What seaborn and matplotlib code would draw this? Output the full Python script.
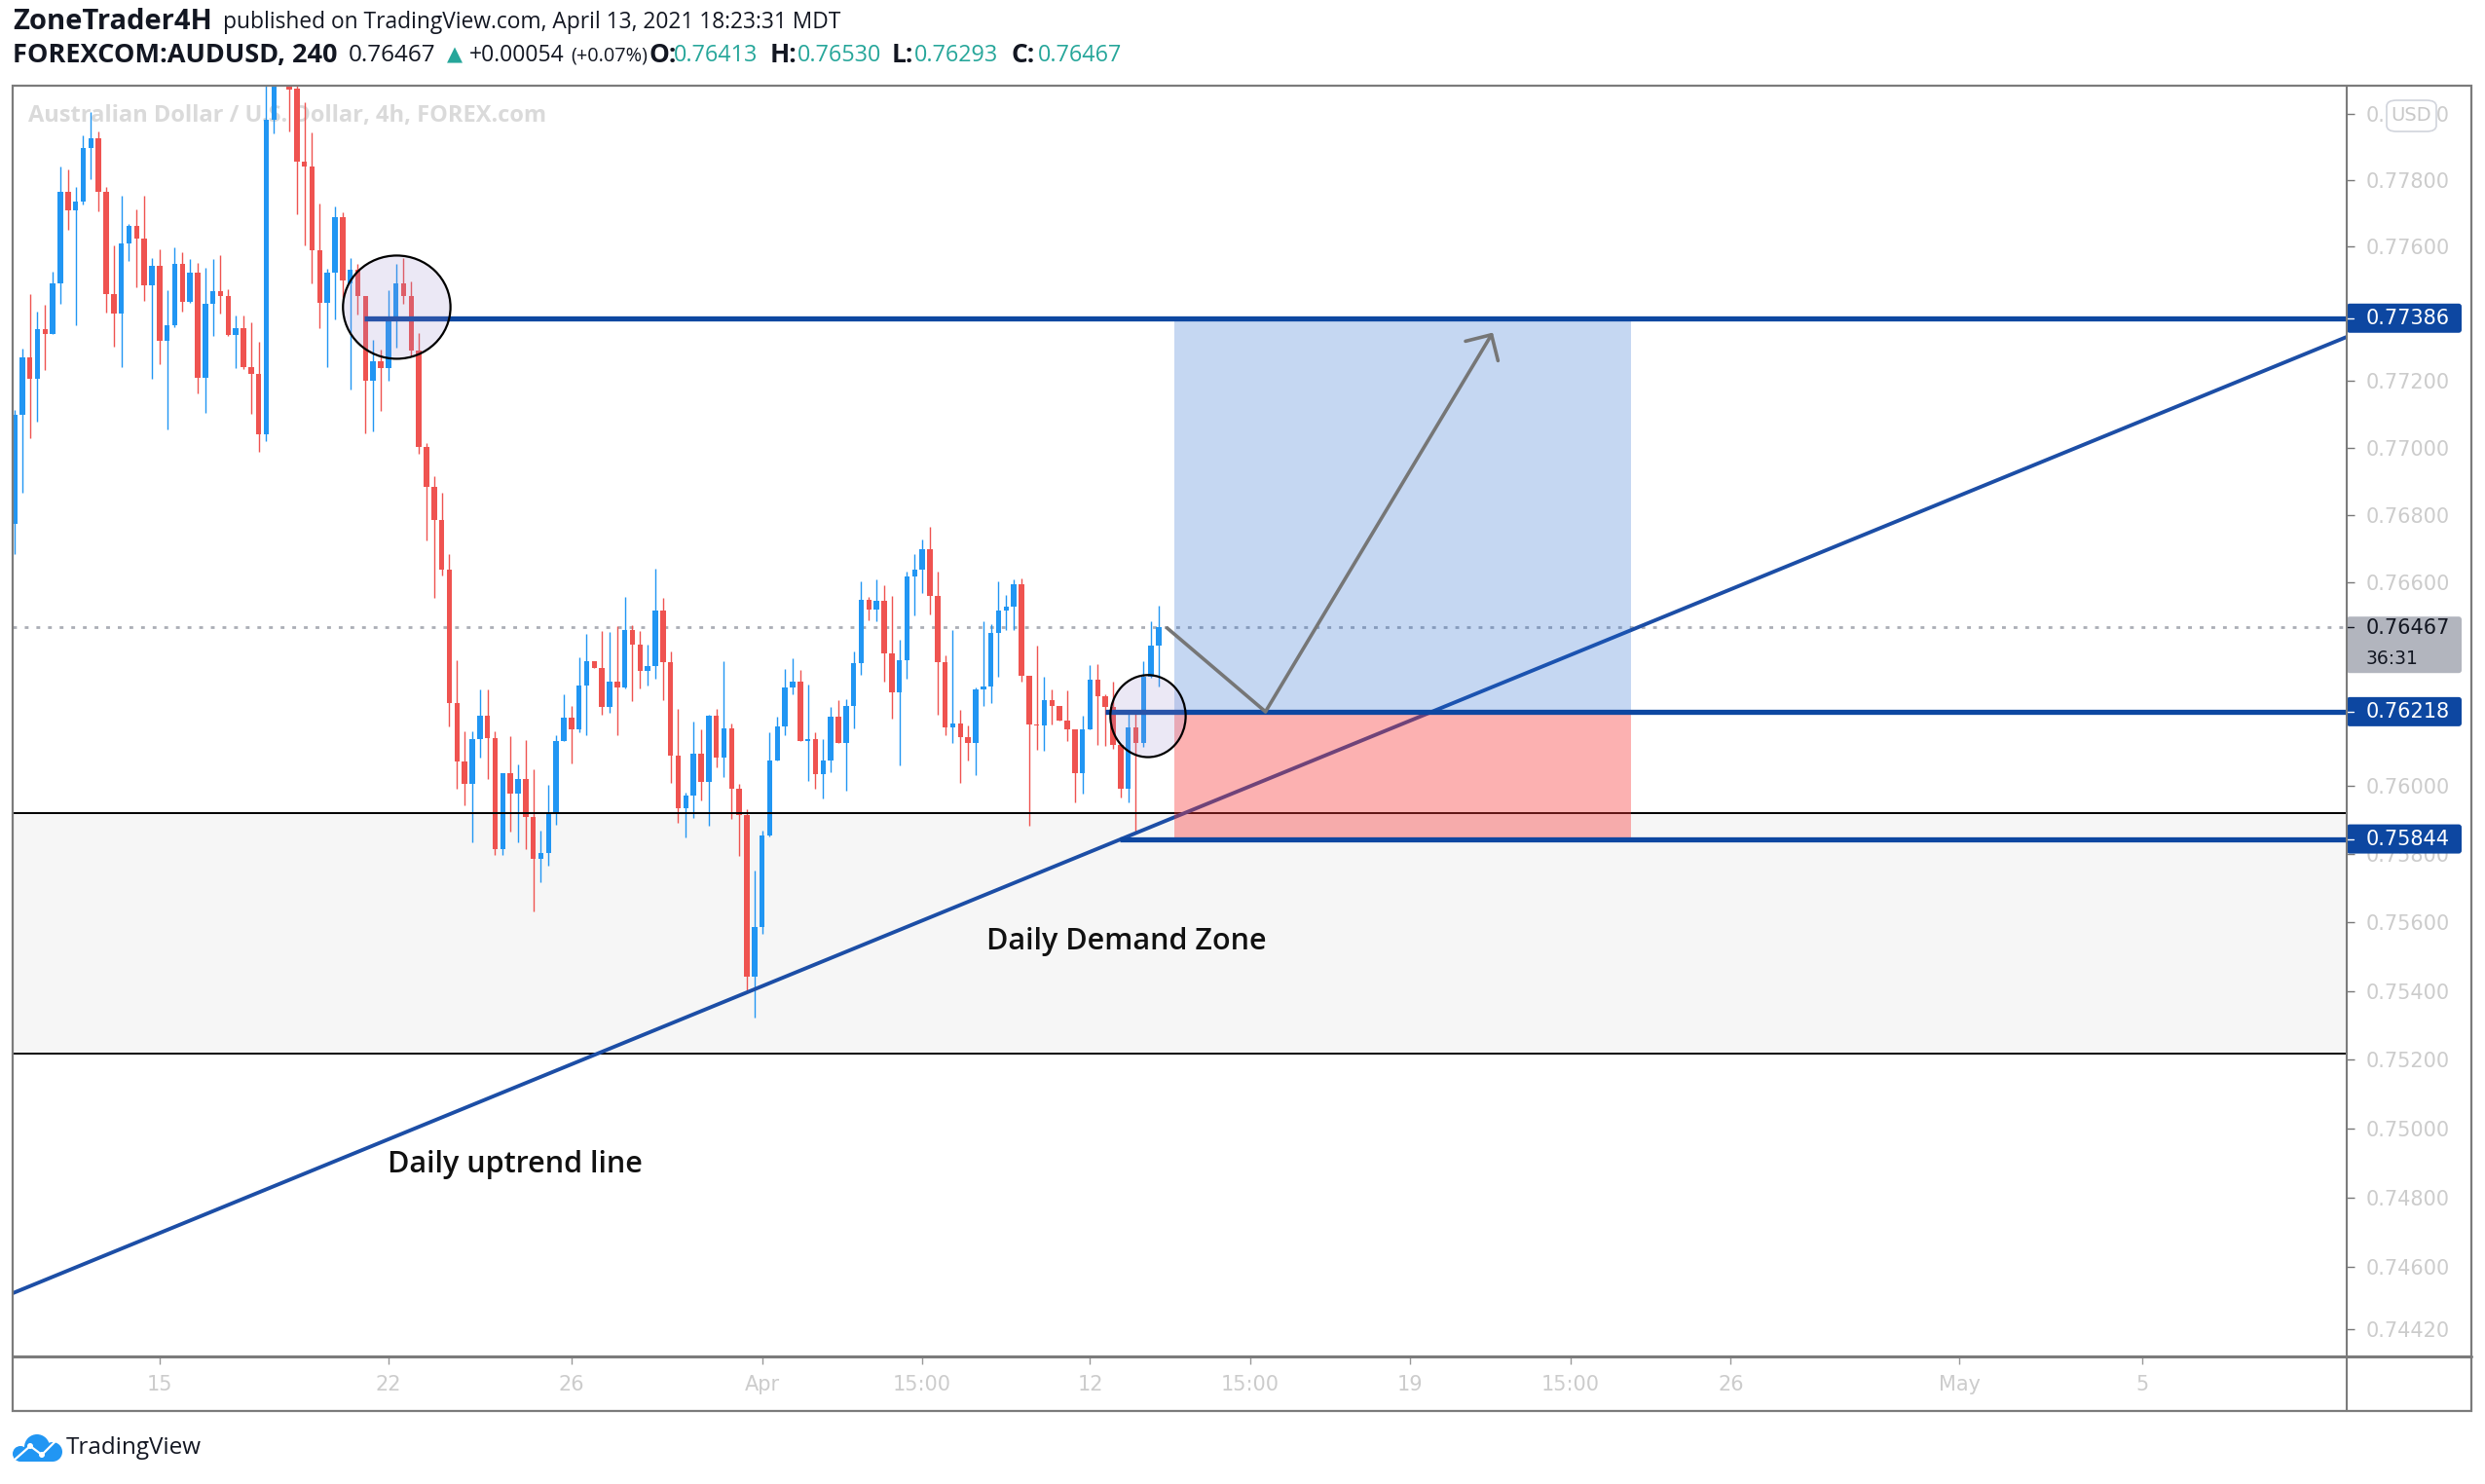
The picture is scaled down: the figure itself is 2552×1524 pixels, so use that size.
import matplotlib
matplotlib.use("Agg")
import matplotlib.pyplot as plt
import matplotlib.transforms as mtransforms
from matplotlib.patches import Rectangle, Ellipse, FancyBboxPatch, Circle, Polygon
from matplotlib.lines import Line2D
from matplotlib.ticker import FixedLocator, FixedFormatter, NullLocator, NullFormatter
import numpy as np
import pandas as pd
import seaborn as sns

# ---------------- data (AUDUSD 4h candles) ----------------
opens = [0.76773, 0.77098, 0.77268, 0.77204, 0.77352, 0.77340, 0.77490, 0.77764, 0.77709, 0.77737,
         0.77898, 0.77926, 0.77764, 0.77459, 0.77400, 0.77609, 0.77662, 0.77624, 0.77484, 0.77542,
         0.77319, 0.77365, 0.77548, 0.77435, 0.77522, 0.77208, 0.77428, 0.77466, 0.77453, 0.77335,
         0.77355, 0.77239, 0.77220, 0.77040, 0.77981, 0.78150, 0.78230, 0.78076, 0.77857, 0.77840,
         0.77588, 0.77432, 0.77522, 0.77690, 0.77490, 0.77532, 0.77451, 0.77200, 0.77256, 0.77237,
         0.77379, 0.77490, 0.77452, 0.77290, 0.77001, 0.76883, 0.76784, 0.76639, 0.76243, 0.76072,
         0.76006, 0.76137, 0.76205, 0.76140, 0.75815, 0.76037, 0.75977, 0.76019, 0.75908, 0.75787,
         0.75802, 0.75921, 0.76131, 0.76199, 0.76166, 0.76295, 0.76367, 0.76347, 0.76233, 0.76307,
         0.76288, 0.76459, 0.76415, 0.76337, 0.76353, 0.76516, 0.76365, 0.76088, 0.75933, 0.75970,
         0.76093, 0.76011, 0.76206, 0.76082, 0.76170, 0.75990, 0.75913, 0.75441, 0.75586, 0.75854,
         0.76074, 0.76176, 0.76289, 0.76308, 0.76132, 0.76137, 0.76033, 0.76075, 0.76204, 0.76127,
         0.76234, 0.76360, 0.76548, 0.76519, 0.76545, 0.76389, 0.76276, 0.76370, 0.76617, 0.76638,
         0.76699, 0.76560, 0.76365, 0.76172, 0.76184, 0.76144, 0.76125, 0.76284, 0.76292, 0.76450,
         0.76517, 0.76528, 0.76595, 0.76325, 0.76181, 0.76177, 0.76251, 0.76235, 0.76191, 0.76165,
         0.76037, 0.76167, 0.76313, 0.76263, 0.76232, 0.76120, 0.75991, 0.76172, 0.76127, 0.76322,
         0.76413]
highs = [0.77112, 0.77294, 0.77457, 0.77405, 0.77425, 0.77525, 0.77840, 0.77832, 0.77780, 0.77934,
         0.78005, 0.77947, 0.77780, 0.77603, 0.77752, 0.77668, 0.77711, 0.77754, 0.77567, 0.77592,
         0.77469, 0.77597, 0.77583, 0.77562, 0.77551, 0.77536, 0.77562, 0.77574, 0.77472, 0.77394,
         0.77394, 0.77373, 0.77315, 0.78120, 0.78200, 0.78320, 0.78280, 0.78100, 0.78034, 0.77944,
         0.77731, 0.77534, 0.77722, 0.77704, 0.77565, 0.77549, 0.77451, 0.77321, 0.77292, 0.77471,
         0.77548, 0.77565, 0.77496, 0.77342, 0.77014, 0.76914, 0.76867, 0.76685, 0.76369, 0.76161,
         0.76161, 0.76284, 0.76284, 0.76161, 0.76037, 0.76145, 0.76062, 0.76134, 0.76048, 0.75868,
         0.76002, 0.76150, 0.76270, 0.76235, 0.76379, 0.76448, 0.76367, 0.76455, 0.76452, 0.76470,
         0.76558, 0.76472, 0.76457, 0.76415, 0.76641, 0.76553, 0.76396, 0.76227, 0.75979, 0.76188,
         0.76166, 0.76208, 0.76227, 0.76367, 0.76184, 0.76007, 0.75931, 0.75752, 0.75868, 0.76156,
         0.76202, 0.76343, 0.76375, 0.76341, 0.76298, 0.76156, 0.76137, 0.76232, 0.76253, 0.76256,
         0.76395, 0.76603, 0.76558, 0.76608, 0.76591, 0.76560, 0.76429, 0.76631, 0.76683, 0.76726,
         0.76765, 0.76631, 0.76384, 0.76458, 0.76224, 0.76178, 0.76289, 0.76484, 0.76476, 0.76603,
         0.76563, 0.76609, 0.76612, 0.76325, 0.76412, 0.76320, 0.76284, 0.76235, 0.76281, 0.76165,
         0.76207, 0.76355, 0.76358, 0.76270, 0.76308, 0.76120, 0.76212, 0.76212, 0.76367, 0.76486,
         0.76530]
lows = [0.76683, 0.76867, 0.77028, 0.77076, 0.77231, 0.77338, 0.77429, 0.77651, 0.77365, 0.77726,
        0.77804, 0.77706, 0.77403, 0.77301, 0.77240, 0.77557, 0.77479, 0.77437, 0.77205, 0.77249,
        0.77054, 0.77360, 0.77406, 0.77431, 0.77161, 0.77103, 0.77333, 0.77400, 0.77333, 0.77237,
        0.77234, 0.77101, 0.76986, 0.77019, 0.77942, 0.78110, 0.77947, 0.77699, 0.77604, 0.77491,
        0.77357, 0.77240, 0.77382, 0.77447, 0.77173, 0.77396, 0.77042, 0.77047, 0.77108, 0.77200,
        0.77297, 0.77429, 0.77271, 0.76981, 0.76724, 0.76553, 0.76619, 0.76174, 0.75992, 0.75943,
        0.75835, 0.76082, 0.76020, 0.75798, 0.75798, 0.75866, 0.75835, 0.75815, 0.75632, 0.75717,
        0.75765, 0.75886, 0.76131, 0.76066, 0.76156, 0.76150, 0.76347, 0.76208, 0.76214, 0.76150,
        0.76286, 0.76248, 0.76286, 0.76295, 0.76314, 0.76251, 0.76009, 0.75891, 0.75848, 0.75905,
        0.75957, 0.75883, 0.76055, 0.76026, 0.75903, 0.75793, 0.75403, 0.75322, 0.75566, 0.75851,
        0.76074, 0.76150, 0.76270, 0.76132, 0.76013, 0.75990, 0.75963, 0.76039, 0.76127, 0.75987,
        0.76168, 0.76327, 0.76489, 0.76486, 0.76308, 0.76197, 0.76060, 0.76315, 0.76503, 0.76567,
        0.76504, 0.76208, 0.76149, 0.76125, 0.76009, 0.76075, 0.76030, 0.76235, 0.76243, 0.76320,
        0.76460, 0.76460, 0.76308, 0.75883, 0.76106, 0.76104, 0.76180, 0.76191, 0.76132, 0.75950,
        0.75976, 0.76165, 0.76121, 0.76118, 0.76108, 0.75966, 0.75952, 0.75866, 0.76115, 0.76318,
        0.76293]
closes = [0.77098, 0.77268, 0.77204, 0.77352, 0.77340, 0.77490, 0.77764, 0.77709, 0.77737, 0.77898,
          0.77926, 0.77764, 0.77459, 0.77400, 0.77609, 0.77662, 0.77624, 0.77484, 0.77542, 0.77319,
          0.77365, 0.77548, 0.77435, 0.77522, 0.77208, 0.77428, 0.77466, 0.77453, 0.77335, 0.77355,
          0.77239, 0.77220, 0.77040, 0.77981, 0.78150, 0.78250, 0.78074, 0.77857, 0.77840, 0.77588,
          0.77432, 0.77522, 0.77690, 0.77498, 0.77532, 0.77451, 0.77200, 0.77256, 0.77237, 0.77379,
          0.77490, 0.77452, 0.77290, 0.77001, 0.76883, 0.76784, 0.76639, 0.76243, 0.76072, 0.76006,
          0.76137, 0.76205, 0.76140, 0.75815, 0.76037, 0.75977, 0.76019, 0.75908, 0.75787, 0.75802,
          0.75921, 0.76131, 0.76199, 0.76166, 0.76295, 0.76367, 0.76347, 0.76233, 0.76307, 0.76288,
          0.76459, 0.76415, 0.76337, 0.76353, 0.76516, 0.76365, 0.76088, 0.75933, 0.75970, 0.76093,
          0.76011, 0.76206, 0.76082, 0.76170, 0.75990, 0.75913, 0.75441, 0.75586, 0.75854, 0.76074,
          0.76176, 0.76289, 0.76308, 0.76132, 0.76137, 0.76033, 0.76075, 0.76204, 0.76127, 0.76234,
          0.76360, 0.76548, 0.76519, 0.76545, 0.76389, 0.76276, 0.76370, 0.76617, 0.76638, 0.76699,
          0.76560, 0.76365, 0.76172, 0.76184, 0.76144, 0.76125, 0.76284, 0.76292, 0.76450, 0.76517,
          0.76528, 0.76595, 0.76325, 0.76180, 0.76177, 0.76251, 0.76235, 0.76191, 0.76165, 0.76037,
          0.76167, 0.76313, 0.76263, 0.76232, 0.76120, 0.75991, 0.76172, 0.76127, 0.76322, 0.76412,
          0.76467]

price_ticks = [0.78000, 0.77800, 0.77600, 0.77400, 0.77200, 0.77000, 0.76800, 0.76600, 0.76400,
               0.76200, 0.76000, 0.75800, 0.75600, 0.75400, 0.75200, 0.75000, 0.74800, 0.74600, 0.74420]
# tick labels fully covered by the price-label boxes in the reference are left blank
price_tick_labels = ["0.78000", "0.77800", "0.77600", "", "0.77200", "0.77000", "0.76800", "0.76600", "",
                     "", "0.76000", "0.75800", "0.75600", "0.75400", "0.75200", "0.75000", "0.74800",
                     "0.74600", "0.74420"]
time_tick_pos = [19, 49, 73, 98, 119, 141, 162, 183, 204, 225, 255, 279]
time_tick_labels = ["15", "22", "26", "Apr", "15:00", "12", "15:00", "19", "15:00", "26", "May", "5"]

demand_low, demand_high = 0.75218, 0.75920
target_price, entry_price, stop_price = 0.77386, 0.76218, 0.75844
level_start = {target_price: 45.8, entry_price: 143.0, stop_price: 144.9}
trend_x = [-0.26, 305.76]
trend_y = [0.74524, 0.77330]
path_x = [151.1, 164.0, 193.8]
path_y = [0.76465, 0.76218, 0.77343]
position_x = [152.0, 211.9]
circle_x = [50.1, 148.6]
circle_y = [0.77419, 0.76205]
circle_size_in = [(1.104, 1.06), (0.773, 0.843)]

# ---------------- figure ----------------
sns.set_theme(style="white")
plt.rcParams['font.family'] = ['Open Sans', 'DejaVu Sans']
W, H = 2552, 1524
fig = plt.figure(figsize=(W / 100, H / 100), dpi=100)
fig.patch.set_facecolor('white')
ax = fig.add_axes([13 / W, 1 - 1393 / H, (2410 - 13) / W, (1393 - 88) / H])
ax.set_facecolor('white')

df = pd.DataFrame(dict(o=opens, h=highs, l=lows, c=closes))
df['i'] = np.arange(len(df))
up = df['c'] >= df['o']
cols = np.where(up, '#2196f3', '#ef5350')
body_low = np.minimum(df['o'], df['c'])
body_h = np.maximum(np.abs(df['c'] - df['o']), 0.00003)

ax.set_yscale('log')

# demand zone
ax.axhspan(demand_low, demand_high, color='#f6f6f6', zorder=0.5, lw=0)
# watermark
ax.text(0.0067, 0.9763, "Australian Dollar / U.S. Dollar, 4h, FOREX.com", transform=ax.transAxes,
        fontsize=17, fontweight='bold', color='#dadada', va='center', ha='left', zorder=0.6)
# last price dotted line
ax.axhline(closes[-1], color='#abaeb6', lw=2.0, ls=(0, (1.4, 2.9)), zorder=1)

# candles
ax.vlines(df['i'], df['l'], df['h'], colors=cols, lw=1.0, zorder=2)
ax.bar(df['i'], body_h, bottom=body_low, width=0.7, color=cols, lw=0, zorder=2.1)

# demand zone borders
ax.axhline(demand_high, color='black', lw=1.4, zorder=3)
ax.axhline(demand_low, color='black', lw=1.4, zorder=3)

# uptrend line
trend_df = pd.DataFrame(dict(x=trend_x, y=trend_y))
sns.lineplot(data=trend_df, x='x', y='y', ax=ax, color='#1c4ea6', lw=2.8, zorder=3.5, sort=False)

# long position tool
ax.add_patch(Rectangle((position_x[0], entry_price), position_x[1] - position_x[0], target_price - entry_price,
                       facecolor=(27 / 255, 99 / 255, 207 / 255, 0.25), lw=0, zorder=4))
ax.add_patch(Rectangle((position_x[0], stop_price), position_x[1] - position_x[0], entry_price - stop_price,
                       facecolor=(248 / 255, 50 / 255, 50 / 255, 0.38), lw=0, zorder=4))

# horizontal levels
for p, x0 in level_start.items():
    ax.hlines(p, x0, 305.76, color='#0d47a1', lw=3.8, zorder=5)

# projected path
path_df = pd.DataFrame(dict(x=path_x[:2], y=path_y[:2]))
sns.lineplot(data=path_df, x='x', y='y', ax=ax, color='#767676', lw=2.6, zorder=5.5, sort=False)
ax.annotate('', xy=(path_x[2], path_y[2]), xytext=(path_x[1], path_y[1]),
            arrowprops=dict(arrowstyle='->,head_length=0.7,head_width=0.7', color='#767676', lw=2.6,
                            shrinkA=0, shrinkB=0, mutation_scale=20), zorder=5.5)

# circles
for cx, cy, (w, h) in zip(circle_x, circle_y, circle_size_in):
    tr = fig.dpi_scale_trans + mtransforms.ScaledTranslation(cx, cy, ax.transData)
    e = Ellipse((0, 0), w, h, transform=tr, facecolor=(0.608, 0.549, 0.804, 0.2),
                edgecolor='black', lw=1.6, zorder=6)
    ax.add_patch(e)

# text annotations
ax.text(145.8, 0.75543, "Daily Demand Zone", fontsize=22, fontweight='semibold', color='#111111',
        ha='center', va='center', zorder=7)
ax.text(65.6, 0.74895, "Daily uptrend line", fontsize=22, fontweight='semibold', color='#111111',
        ha='center', va='center', zorder=7)

# axes setup
ax.set_xlim(-0.255, 305.76)
ax.set_ylim(0.743422, 0.780845)
ax.set_xlabel('')
ax.set_ylabel('')
ax.grid(False)
for s in ax.spines.values():
    s.set_visible(False)
ax.yaxis.tick_right()
ax.yaxis.set_major_locator(FixedLocator(price_ticks))
ax.yaxis.set_major_formatter(FixedFormatter(price_tick_labels))
ax.yaxis.set_minor_locator(NullLocator())
ax.yaxis.set_minor_formatter(NullFormatter())
ax.tick_params(axis='y', which='major', right=True, left=False, direction='out', length=6, width=1,
               color='#787878', labelcolor='#cccccc', labelsize=15, pad=8, labelfontfamily='DejaVu Sans')
ax.xaxis.set_major_locator(FixedLocator(time_tick_pos))
ax.xaxis.set_major_formatter(FixedFormatter(time_tick_labels))
ax.tick_params(axis='x', which='major', bottom=True, top=False, direction='out', length=6, width=1,
               color='#999999', labelcolor='#cccccc', labelsize=15, pad=8, labelfontfamily='DejaVu Sans')

# price axis labels
blend = mtransforms.blended_transform_factory(ax.transAxes, ax.transData)
for p in [target_price, entry_price, stop_price]:
    tr = fig.dpi_scale_trans + mtransforms.ScaledTranslation(1.0, p, blend)
    r = FancyBboxPatch((0, -0.15), 1.18, 0.30, boxstyle='round,pad=0,rounding_size=0.03',
                       transform=tr, facecolor='#0d47a1', edgecolor='none', zorder=10)
    ax.add_patch(r)
    r.set_clip_on(False)
    ax.add_line(Line2D([0, 0.07], [0, 0], transform=tr, color='white', lw=1, zorder=11, clip_on=False))
    ax.text(0.20, -0.005, f"{p:.5f}", transform=tr, color='white', fontsize=15, va='center', ha='left',
            family='DejaVu Sans', zorder=11, clip_on=False)

trl = fig.dpi_scale_trans + mtransforms.ScaledTranslation(1.0, closes[-1], blend)
g = FancyBboxPatch((0, -0.47), 1.18, 0.58, boxstyle='round,pad=0,rounding_size=0.03', transform=trl,
                   facecolor='#b2b5be', edgecolor='none', zorder=10)
ax.add_patch(g)
g.set_clip_on(False)
ax.add_line(Line2D([0, 0.07], [0, 0], transform=trl, color='#131722', lw=1, zorder=11, clip_on=False))
ax.text(0.20, -0.01, f"{closes[-1]:.5f}", transform=trl, color='#131722', fontsize=15, va='center',
        ha='left', family='DejaVu Sans', zorder=11, clip_on=False)
ax.text(0.20, -0.32, "36:31", transform=trl, color='#131722', fontsize=13.5, va='center',
        ha='left', family='DejaVu Sans', zorder=11, clip_on=False)

# ---------------- figure-level decorations ----------------
def fx(x):
    return x / W

def fy(y):
    return 1 - y / H

frame_col = '#7b7b7b'
fig.add_artist(Rectangle((fx(13), fy(1449)), fx(2538) - fx(13), fy(88) - fy(1449), transform=fig.transFigure,
                         fill=False, edgecolor=frame_col, lw=1.6, zorder=5))
fig.add_artist(Line2D([fx(2410), fx(2410)], [fy(88), fy(1449)], transform=fig.transFigure, color=frame_col, lw=1.5, zorder=5))
fig.add_artist(Line2D([fx(13), fx(2538)], [fy(1393), fy(1393)], transform=fig.transFigure, color=frame_col, lw=2.2, zorder=5))

# USD box
fig.add_artist(FancyBboxPatch((fx(2451), fy(135)), fx(2502) - fx(2451), fy(103) - fy(135),
                              boxstyle='round,pad=0,rounding_size=0.004', transform=fig.transFigure,
                              facecolor='white', edgecolor='#d1d4dc', lw=1.2, zorder=6))
fig.text(fx(2476.5), fy(119), "USD", color='#c8c8c8', fontsize=14, ha='center', va='center',
         family='DejaVu Sans', zorder=7)

# header
dark = '#131722'
teal = '#26a69a'
y1, y2 = fy(23), fy(57)
fig.text(fx(13), y1, "ZoneTrader4H", fontsize=21, fontweight='bold', color=dark, va='center', ha='left')
fig.text(fx(229), y1, "published on TradingView.com, April 13, 2021 18:23:31 MDT", fontsize=16.4,
         color=dark, va='center', ha='left')
segs = [(13, "FOREXCOM:AUDUSD, 240", 'bold', dark, 19.5),
        (358, f"{closes[-1]:.5f}", 'normal', dark, 17.5),
        (459, "▲", 'normal', teal, 15),
        (482, "+0.00054", 'normal', dark, 16.5),
        (586, "(+0.07%)", 'normal', dark, 14.3),
        (666, "O:", 'bold', dark, 19), (692, f"{opens[-1]:.5f}", 'normal', teal, 16.8),
        (791, "H:", 'bold', dark, 19), (819, f"{highs[-1]:.5f}", 'normal', teal, 16.8),
        (916, "L:", 'bold', dark, 19), (939, f"{lows[-1]:.5f}", 'normal', teal, 16.8),
        (1038, "C:", 'bold', dark, 19), (1066, f"{closes[-1]:.5f}", 'normal', teal, 16.8)]
for x, s, wgt, c, size in segs:
    fig.text(fx(x), y2, s, fontsize=size, fontweight=wgt, color=c, va='center', ha='left')

# TradingView logo
ident = mtransforms.IdentityTransform()
blue = '#2196f3'
for (cx, cy, r) in [(38, 1486, 13), (21, 1493, 8), (54, 1491, 10)]:
    fig.add_artist(Circle((cx, H - cy), r, transform=ident, facecolor=blue, edgecolor='none', zorder=5))
fig.add_artist(Rectangle((21, H - 1501), 33, 12, transform=ident, facecolor=blue, edgecolor='none', zorder=5))
fig.add_artist(Line2D([15, 31, 43, 57], [H - 1499, H - 1485, H - 1494, H - 1480], transform=ident,
                      color='white', lw=1.6, zorder=6))
for (px, py) in [(31, 1485), (43, 1494)]:
    fig.add_artist(Circle((px, H - py), 3, transform=ident, facecolor='white', edgecolor='none', zorder=6))
fig.text(fx(68), fy(1487), "TradingView", fontsize=17.5, color=dark, va='center', ha='left')

fig.savefig("out.png", dpi=100, facecolor='white')
